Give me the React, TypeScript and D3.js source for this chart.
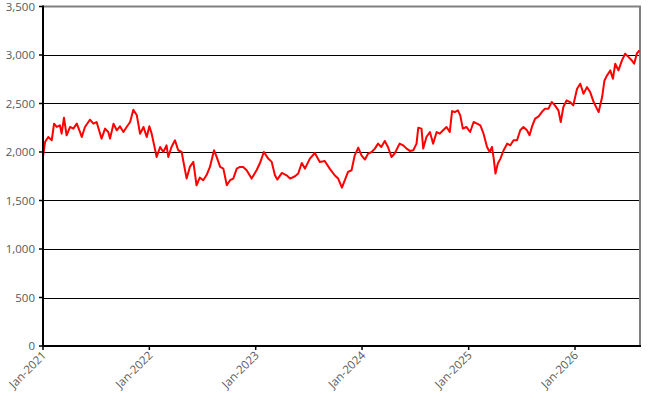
import React from "react";
import * as d3 from "d3";

// chart size (matches the window)
const width = 659;
const height = 410;
const margin = { top: 6.5, right: 19, bottom: 64, left: 43 };

// y axis ticks
const yTicks = [0, 500, 1000, 1500, 2000, 2500, 3000, 3500];

// x axis ticks (first of each year)
const xTickDates = ["2021-01-01", "2022-01-01", "2023-01-01", "2024-01-01", "2025-01-01", "2026-01-01"];
const xTickLabels = ["Jan-2021", "Jan-2022", "Jan-2023", "Jan-2024", "Jan-2025", "Jan-2026"];

// x range of the chart
const xStart = "2021-01-01";
const xEnd = "2026-08-12";

// series
const dates = [
  // 2021
  "2021-01-01", "2021-01-08", "2021-01-19", "2021-01-31", "2021-02-08", "2021-02-17", "2021-02-28",
  "2021-03-06", "2021-03-14", "2021-03-23", "2021-04-04", "2021-04-15", "2021-04-27", "2021-05-08",
  "2021-05-14", "2021-05-25", "2021-06-11", "2021-06-23", "2021-07-04", "2021-07-16", "2021-07-21",
  "2021-08-02", "2021-08-13", "2021-08-19", "2021-08-31", "2021-09-11", "2021-09-22", "2021-10-04",
  "2021-10-15", "2021-10-27", "2021-11-07", "2021-11-19", "2021-11-30", "2021-12-12", "2021-12-23",
  // 2022
  "2022-01-01", "2022-01-09", "2022-01-20", "2022-01-26", "2022-02-07", "2022-02-18", "2022-03-01",
  "2022-03-07", "2022-03-18", "2022-03-30", "2022-04-10", "2022-04-22", "2022-04-27", "2022-05-09",
  "2022-05-20", "2022-06-01", "2022-06-12", "2022-06-23", "2022-07-05", "2022-07-16", "2022-07-28",
  "2022-08-11", "2022-08-20", "2022-09-01", "2022-09-12", "2022-09-24", "2022-10-05", "2022-10-16",
  "2022-10-28", "2022-11-08", "2022-11-19", "2022-12-01", "2022-12-18",
  // 2023
  "2023-01-04", "2023-01-15", "2023-01-29", "2023-02-13", "2023-02-25", "2023-03-08", "2023-03-16",
  "2023-04-01", "2023-04-17", "2023-04-29", "2023-05-16", "2023-05-27", "2023-06-08", "2023-06-19",
  "2023-07-06", "2023-07-23", "2023-08-09", "2023-08-26", "2023-09-12", "2023-09-29", "2023-10-11",
  "2023-10-24", "2023-11-03", "2023-11-14", "2023-11-26", "2023-12-07", "2023-12-19", "2023-12-30",
  // 2024
  "2024-01-11", "2024-01-22", "2024-02-03", "2024-02-14", "2024-02-25", "2024-03-07", "2024-03-19",
  "2024-03-30", "2024-04-11", "2024-04-22", "2024-05-09", "2024-05-21", "2024-06-02", "2024-06-13",
  "2024-06-25", "2024-07-06", "2024-07-12", "2024-07-23", "2024-07-29", "2024-08-09", "2024-08-21",
  "2024-09-01", "2024-09-13", "2024-09-24", "2024-10-05", "2024-10-17", "2024-10-28", "2024-11-05",
  "2024-11-14", "2024-11-25", "2024-12-03", "2024-12-12", "2024-12-24",
  // 2025
  "2025-01-06", "2025-01-18", "2025-01-30", "2025-02-10", "2025-02-21", "2025-03-05", "2025-03-14",
  "2025-03-22", "2025-03-28", "2025-04-03", "2025-04-11", "2025-04-20", "2025-05-01", "2025-05-13",
  "2025-05-24", "2025-06-04", "2025-06-16", "2025-06-27", "2025-07-08", "2025-07-20", "2025-07-29",
  "2025-08-06", "2025-08-17", "2025-08-29", "2025-09-09", "2025-09-20", "2025-10-02", "2025-10-13",
  "2025-10-24", "2025-11-05", "2025-11-13", "2025-11-22", "2025-12-03", "2025-12-15", "2025-12-26",
  // 2026
  "2026-01-08", "2026-01-19", "2026-01-30", "2026-02-11", "2026-02-22", "2026-03-06", "2026-03-17",
  "2026-03-23", "2026-04-04", "2026-04-12", "2026-04-21", "2026-05-02", "2026-05-11", "2026-05-19",
  "2026-05-30", "2026-06-11", "2026-06-22", "2026-07-04", "2026-07-15", "2026-07-23", "2026-08-01",
  "2026-08-10",
];

const values = [
  // 2021
  1949, 2103, 2155, 2121, 2292, 2258, 2275,
  2189, 2354, 2172, 2258, 2241, 2292, 2206,
  2155, 2258, 2333, 2292, 2309, 2189, 2138,
  2241, 2206, 2138, 2292, 2224, 2265, 2206,
  2258, 2309, 2436, 2378, 2189, 2258, 2155,
  // 2022
  2265, 2189, 2035, 1949, 2052, 2000, 2069,
  1949, 2052, 2121, 2018, 2000, 1915, 1726,
  1846, 1898, 1657, 1736, 1709, 1760, 1846,
  2018, 1949, 1846, 1829, 1657, 1709, 1726,
  1829, 1846, 1846, 1812, 1726,
  // 2023
  1812, 1881, 2000, 1932, 1898, 1760, 1716,
  1784, 1760, 1726, 1750, 1778, 1887, 1829,
  1932, 1990, 1898, 1908, 1829, 1760, 1726,
  1633, 1709, 1795, 1812, 1966, 2045, 1966,
  // 2024
  1922, 1984, 2000, 2035, 2086, 2052, 2114,
  2052, 1949, 1984, 2086, 2069, 2035, 2011,
  2018, 2086, 2251, 2241, 2035, 2155, 2206,
  2086, 2206, 2189, 2224, 2258, 2206, 2422,
  2412, 2429, 2378, 2241, 2258,
  // 2025
  2206, 2309, 2292, 2275, 2189, 2052, 2000,
  2052, 1932, 1778, 1881, 1932, 2018, 2086,
  2069, 2121, 2121, 2224, 2258, 2224, 2172,
  2258, 2344, 2368, 2412, 2447, 2447, 2515,
  2481, 2429, 2309, 2464, 2532, 2515, 2481,
  // 2026
  2652, 2704, 2601, 2669, 2618, 2515, 2447,
  2412, 2566, 2738, 2790, 2841, 2755, 2910,
  2841, 2944, 3013, 2978, 2944, 2910, 3013,
  3047,
];

const parse = d3.timeParse("%Y-%m-%d");
const font = "'Open Sans', 'DejaVu Sans', sans-serif";
const textColor = "#595959";

export default function App() {
  const x = d3
    .scaleTime()
    .domain([parse(xStart)!, parse(xEnd)!])
    .range([margin.left, width - margin.right]);
  const y = d3
    .scaleLinear()
    .domain([0, 3500])
    .range([height - margin.bottom, margin.top]);

  const points = dates.map((d, i) => ({ date: parse(d)!, value: values[i] }));
  const line = d3
    .line<{ date: Date; value: number }>()
    .x((d) => x(d.date))
    .y((d) => y(d.value));

  const x0 = x.range()[0];
  const x1 = x.range()[1];
  const yBottom = y(0);
  const yTop = y(3500);

  return (
    <svg
      width={width}
      height={height}
      style={{ position: "absolute", left: 0, top: 0, background: "#fff" }}
    >
      {/* horizontal grid lines */}
      {yTicks.slice(1, -1).map((t) => (
        <line key={t} x1={x0} x2={x1} y1={Math.round(y(t)) + 0.5} y2={Math.round(y(t)) + 0.5} stroke="#000" strokeWidth={1} />
      ))}

      {/* top and right border */}
      <line x1={x0} x2={x1 + 1} y1={yTop} y2={yTop} stroke="#808080" strokeWidth={2} />
      <line x1={x1} x2={x1} y1={yTop} y2={yBottom} stroke="#808080" strokeWidth={2} />

      {/* series */}
      <path d={line(points) ?? ""} fill="none" stroke="#ff0000" strokeWidth={2} strokeLinejoin="round" />

      {/* y axis */}
      <line x1={x0} x2={x0} y1={yTop - 1} y2={yBottom + 1} stroke="#000" strokeWidth={2} />
      {yTicks.map((t) => (
        <g key={t} transform={`translate(0,${y(t)})`}>
          <line x1={x0 - 4} x2={x0} stroke="#000" strokeWidth={1.5} />
          <text
            x={x0 - 8}
            dy="0.35em"
            textAnchor="end"
            fontFamily={font}
            fontSize={11.5}
            fill={textColor}
          >
            {d3.format(",")(t)}
          </text>
        </g>
      ))}

      {/* x axis */}
      <line x1={x0 - 1} x2={x1 + 1} y1={yBottom} y2={yBottom} stroke="#000" strokeWidth={2} />
      {xTickDates.map((d, i) => {
        const px = x(parse(d)!);
        return (
          <g key={d}>
            <line x1={px} x2={px} y1={yBottom} y2={yBottom + 4} stroke="#000" strokeWidth={1.5} />
            <text
              transform={`translate(${px + 4},${yBottom + 10}) rotate(-45)`}
              textAnchor="end"
              fontFamily={font}
              fontSize={11.5}
              fill={textColor}
            >
              {xTickLabels[i]}
            </text>
          </g>
        );
      })}
    </svg>
  );
}
